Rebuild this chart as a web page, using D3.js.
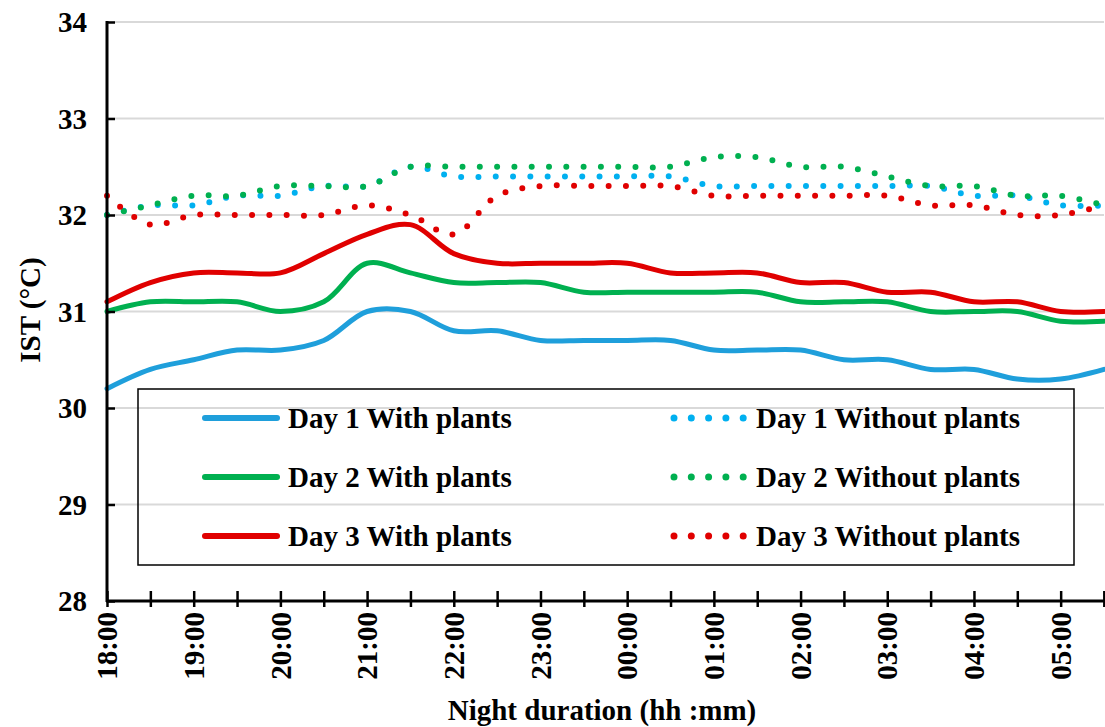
<!DOCTYPE html>
<html>
<head>
<meta charset="utf-8">
<script src="https://cdn.jsdelivr.net/npm/d3@7"></script>
<style>
  body { margin: 0; background: #fff; }
  text { font-family: "Liberation Serif", "Times New Roman", serif; font-weight: bold; fill: #000; }
</style>
</head>
<body>
<script>
//half-hour steps of the night
var times = ["18:00","18:30","19:00","19:30","20:00","20:30","21:00","21:30","22:00","22:30","23:00","23:30",
             "00:00","00:30","01:00","01:30","02:00","02:30","03:00","03:30","04:00","04:30","05:00","05:30"];
var hourLabels = ["18:00","19:00","20:00","21:00","22:00","23:00","00:00","01:00","02:00","03:00","04:00","05:00"];
var yTicks = [28, 29, 30, 31, 32, 33, 34];

//IST values
var day1With    = [30.2,30.4,30.5,30.6,30.6,30.7,31.0,31.0,30.8,30.8,30.7,30.7,30.7,30.7,30.6,30.6,30.6,30.5,30.5,30.4,30.4,30.3,30.3,30.4];
var day1Without = [32.0,32.1,32.1,32.2,32.2,32.3,32.3,32.5,32.4,32.4,32.4,32.4,32.4,32.4,32.3,32.3,32.3,32.3,32.3,32.3,32.2,32.2,32.1,32.1];
var day2With    = [31.0,31.1,31.1,31.1,31.0,31.1,31.5,31.4,31.3,31.3,31.3,31.2,31.2,31.2,31.2,31.2,31.1,31.1,31.1,31.0,31.0,31.0,30.9,30.9];
var day2Without = [32.0,32.1,32.2,32.2,32.3,32.3,32.3,32.5,32.5,32.5,32.5,32.5,32.5,32.5,32.6,32.6,32.5,32.5,32.4,32.3,32.3,32.2,32.2,32.1];
var day3With    = [31.1,31.3,31.4,31.4,31.4,31.6,31.8,31.9,31.6,31.5,31.5,31.5,31.5,31.4,31.4,31.4,31.3,31.3,31.2,31.2,31.1,31.1,31.0,31.0];
var day3Without = [32.2,31.9,32.0,32.0,32.0,32.0,32.1,32.0,31.8,32.2,32.3,32.3,32.3,32.3,32.2,32.2,32.2,32.2,32.2,32.1,32.1,32.0,32.0,32.1];

var seriesNames = ["Day 1 With plants","Day 1 Without plants","Day 2 With plants","Day 2 Without plants","Day 3 With plants","Day 3 Without plants"];
var seriesValues = [day1With, day1Without, day2With, day2Without, day3With, day3Without];
var seriesColors = ["#1f9fdb","#00b0f0","#00b050","#00b050","#e00000","#e00000"];
var seriesDotted = [false, true, false, true, false, true];

var width = 1105, height = 727;
//plot frame (note: "top" is taken by window.top, so use padTop)
var padLeft = 107, padRight = 1104, padTop = 22, padBottom = 601;
var fontSize = "29px";

//turn "hh:mm" into hours after 18:00
function hoursAfter(t){
  var p = t.split(":");
  var h = +p[0] + (+p[1]) / 60;
  return h < 18 ? h + 6 : h - 18;
}

var svg = d3.select("body").append("svg")
  .attr("width", width)
  .attr("height", height);

var x = d3.scaleLinear().domain([0, 11.5]).range([padLeft, padRight]);
var y = d3.scaleLinear().domain([28, 34]).range([padBottom, padTop]);

//horizontal gridlines
svg.append("g").selectAll("line")
  .data(yTicks.slice(1))
  .enter().append("line")
  .attr("x1", padLeft).attr("x2", padRight)
  .attr("y1", function(d){ return y(d); })
  .attr("y2", function(d){ return y(d); })
  .attr("stroke", "#d9d9d9")
  .attr("stroke-width", 2);

//series lines, smoothed like the spreadsheet
var line = d3.line()
  .x(function(d){ return x(d.t); })
  .y(function(d){ return y(d.v); })
  .curve(d3.curveCatmullRom.alpha(0.5));

var lines = svg.append("g");
for (var i = 0; i < seriesValues.length; i++){
  var pts = seriesValues[i].map(function(v, k){ return { t: hoursAfter(times[k]), v: v }; });
  var p = lines.append("path")
    .datum(pts)
    .attr("d", line)
    .attr("fill", "none")
    .attr("stroke", seriesColors[i])
    .attr("stroke-linecap", "round");
  if (seriesDotted[i]) {
    p.attr("stroke-width", 6).attr("stroke-dasharray", "0 17.3");
  } else {
    p.attr("stroke-width", 5);
  }
}

//y axis
var yAxis = d3.axisRight(y).tickValues(yTicks).tickSize(8).tickFormat("");
var yg = svg.append("g").attr("transform", "translate(" + padLeft + ",0)").call(yAxis);
yg.select(".domain").remove();
yg.selectAll("line").attr("stroke", "#000").attr("stroke-width", 2.5);
svg.append("line")
  .attr("x1", padLeft).attr("x2", padLeft).attr("y1", padTop - 1).attr("y2", padBottom + 1)
  .attr("stroke", "#000").attr("stroke-width", 3);
svg.append("g").selectAll("text")
  .data(yTicks)
  .enter().append("text")
  .attr("x", 87)
  .attr("y", function(d){ return y(d); })
  .attr("dy", "0.35em")
  .attr("text-anchor", "end")
  .style("font-size", fontSize)
  .text(function(d){ return d; });

//x axis with half-hour ticks crossing the line
var xTickVals = times.map(hoursAfter).concat([11.5]);
var xAxis = d3.axisBottom(x).tickValues(xTickVals).tickSizeInner(6).tickSizeOuter(0).tickFormat("");
var xg = svg.append("g").attr("transform", "translate(0," + padBottom + ")").call(xAxis);
xg.select(".domain").remove();
xg.selectAll(".tick line").attr("y1", -10).attr("stroke", "#000").attr("stroke-width", 2.5);
svg.append("line")
  .attr("x1", padLeft - 1).attr("x2", padRight + 1).attr("y1", padBottom).attr("y2", padBottom)
  .attr("stroke", "#000").attr("stroke-width", 3);
svg.append("g").selectAll("text")
  .data(hourLabels)
  .enter().append("text")
  .attr("transform", function(d){ return "translate(" + x(hoursAfter(d)) + ",612) rotate(-90)"; })
  .attr("dy", "0.35em")
  .attr("text-anchor", "end")
  .style("font-size", fontSize)
  .text(function(d){ return d; });

//axis titles
svg.append("text")
  .attr("x", 602).attr("y", 720)
  .attr("text-anchor", "middle")
  .style("font-size", fontSize)
  .text("Night duration (hh :mm)");
svg.append("text")
  .attr("transform", "translate(40,310) rotate(-90)")
  .attr("text-anchor", "middle")
  .style("font-size", fontSize)
  .text("IST (°C)");

//legend, two columns, no fill
var legend = svg.append("g");
legend.append("rect")
  .attr("x", 138).attr("y", 389).attr("width", 936).attr("height", 176)
  .attr("fill", "none").attr("stroke", "#000").attr("stroke-width", 1.5);
for (var j = 0; j < seriesNames.length; j++){
  var col = j % 2, row = Math.floor(j / 2);
  var lx = col === 0 ? 205 : 674;
  var ly = 418 + row * 59;
  var sw = legend.append("line")
    .attr("x1", lx).attr("x2", lx + 72)
    .attr("y1", ly).attr("y2", ly)
    .attr("stroke", seriesColors[j])
    .attr("stroke-linecap", "round");
  if (seriesDotted[j]) {
    sw.attr("stroke-width", 7).attr("stroke-dasharray", "0 17.3").attr("x2", lx + 70);
  } else {
    sw.attr("stroke-width", 6);
  }
  legend.append("text")
    .attr("x", col === 0 ? 288 : 756)
    .attr("y", ly)
    .attr("dy", "0.35em")
    .style("font-size", fontSize)
    .text(seriesNames[j]);
}
</script>
</body>
</html>
